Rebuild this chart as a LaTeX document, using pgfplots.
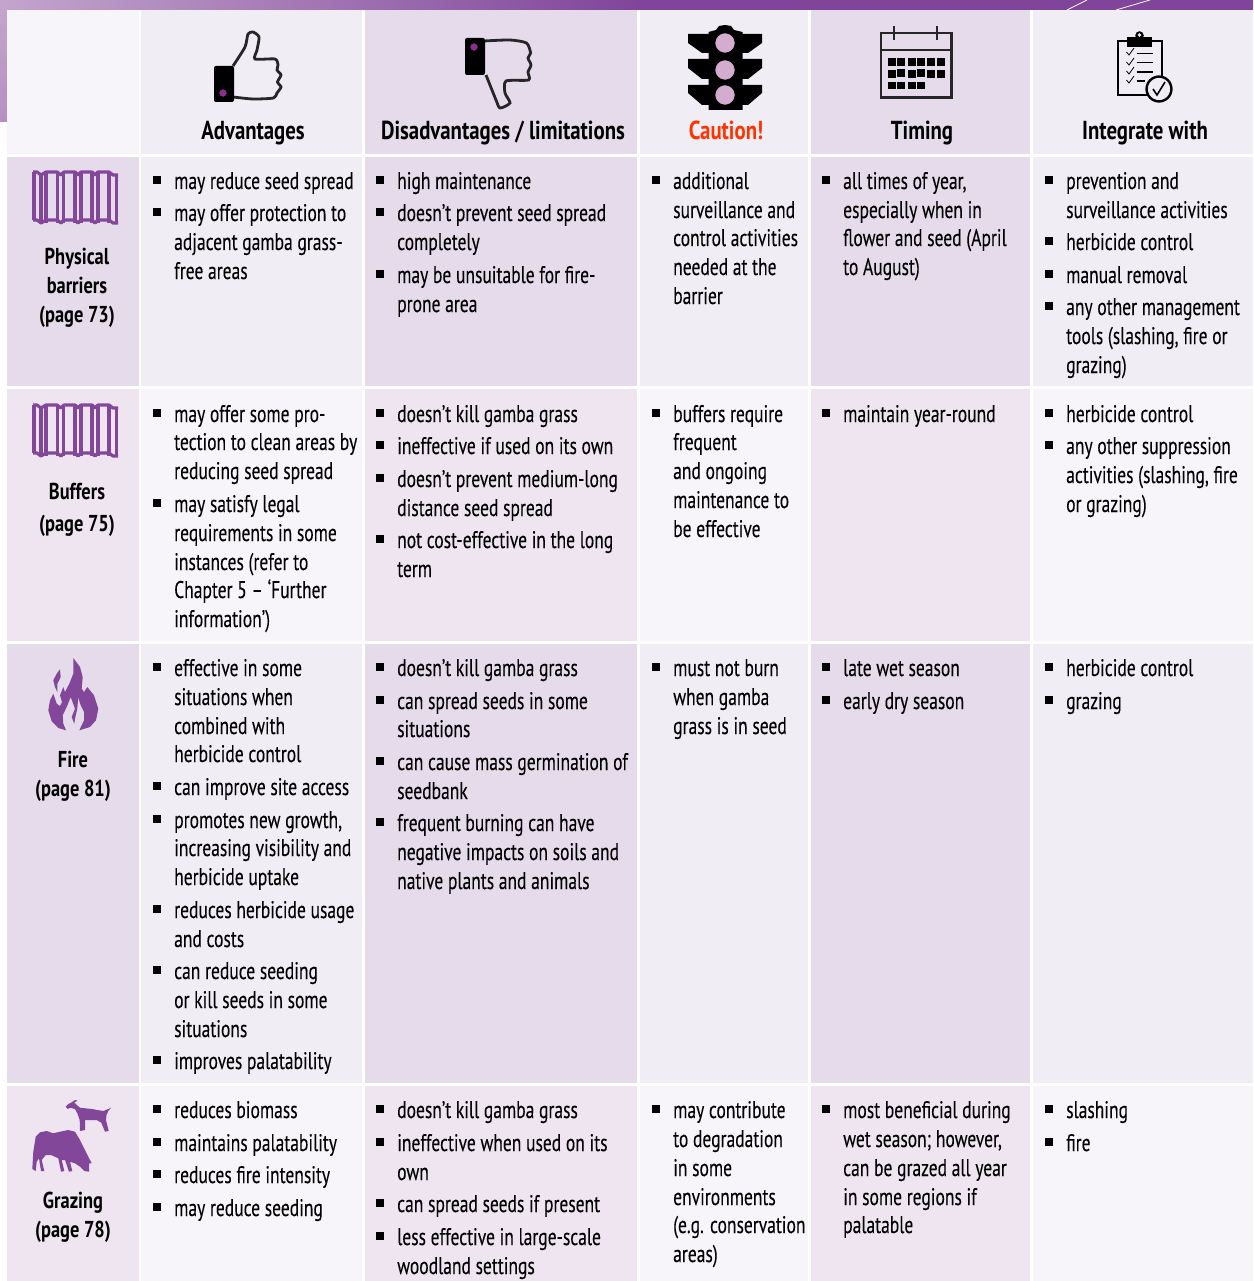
\documentclass[border=0pt]{standalone}
\usepackage{pgfplots}
\pgfplotsset{compat=1.18}
\usepackage{fontspec}
\setmainfont[FakeStretch=0.73,FakeBold=0.12]{PT Sans}
\newfontfamily\hf[FakeStretch=0.8]{PT Sans}
\definecolor{dk}{HTML}{E6DBEB}
\definecolor{md}{HTML}{F1EDF5}
\definecolor{lt}{HTML}{F8F5FA}
\definecolor{dl}{HTML}{EEE5F1}
\definecolor{pur}{HTML}{83479A}
\definecolor{txt}{HTML}{000000}
\definecolor{ga}{HTML}{C3A5CC}
\definecolor{gb}{HTML}{80459A}
\definecolor{gc}{HTML}{B68FC1}
\definecolor{tl}{HTML}{D3ACD0}
\definecolor{rd}{HTML}{FF3300}
\definecolor{dt}{HTML}{8B2F8F}
\newcommand\C[5]{\addplot[draw=none,fill=#5] coordinates {(#1,#3)(#2,#3)(#2,#4)(#1,#4)} --cycle;}
\newcommand\Rw[4]{\C{7}{139}{#1}{#2}{#3}\C{141}{362}{#1}{#2}{#4}\C{365}{637}{#1}{#2}{#3}\C{640}{808}{#1}{#2}{#4}\C{811}{1030}{#1}{#2}{#3}\C{1033}{1253}{#1}{#2}{#4}}
\newcommand\T[3]{\node[anchor=base west,inner sep=0pt,yshift=-8pt,text=txt,font=\fontsize{24}{24}\selectfont] at (axis cs:#1,#2) {#3};}
\newcommand\HH[3]{\node[anchor=base,inner sep=0pt,yshift=-8pt,text=txt,font=\hf\fontsize{23}{23}\selectfont\bfseries] at (axis cs:#1,#2) {#3};}
\newcommand\HC[3]{\node[anchor=base,inner sep=0pt,yshift=-9pt,text=txt,font=\hf\fontsize{26}{26}\selectfont\bfseries] at (axis cs:#1,#2) {#3};}
\newcommand\V[3]{\addplot[draw=pur,line width=3.2pt] coordinates {(#1,#2)(#1,#3)};}
\newcommand\Br[4]{%
\addplot[draw=pur,line width=3.2pt,line join=round] coordinates {(33,#1)(37,#1)(41,#2)(46,#1)(57,#1)(61,#2)(64,#1)(75,#1)(78,#2)(81,#1)(92,#1)(95,#2)(98,#1)(109,#1)(113,#2)(118,#2)};
\addplot[draw=pur,line width=3.2pt,line join=round] coordinates {(33,#3)(37,#3)(41,#4)(46,#3)(57,#3)(61,#4)(64,#3)(75,#3)(78,#4)(81,#3)(92,#3)(95,#4)(98,#3)(109,#3)(113,#4)(118,#4)};
\V{34}{#1}{#3}\V{41}{#2}{#4}\V{46}{#1}{#4}\V{57.5}{#1}{#4}\V{63.5}{#1}{#4}\V{75}{#1}{#4}\V{81}{#1}{#4}\V{92}{#1}{#4}\V{98}{#1}{#4}\V{109}{#1}{#4}\V{116.7}{#2}{#4}}
\begin{document}
\begin{tikzpicture}
\begin{axis}[width=1253pt,height=1281pt,scale only axis,xmin=0,xmax=1253,ymin=0,ymax=1281,y dir=reverse,axis lines=none,ticks=none]
% frame
\addplot[draw=none,left color=ga,right color=gb] coordinates {(0,0)(640,0)(640,10)(0,10)} --cycle;
\addplot[draw=none,fill=gb] coordinates {(640,0)(1253,0)(1253,10)(640,10)} --cycle;
\addplot[draw=none,top color=ga,bottom color=gc] coordinates {(0,10)(7,10)(7,122)(0,122)} --cycle;
\addplot[draw=white,line width=0.8pt] coordinates {(1067,10)(1087,0)};
\addplot[draw=white,line width=0.8pt] coordinates {(1116,10)(1150,0)};
% cells
\C{7}{139}{10}{154}{lt}\C{141}{362}{10}{154}{md}\C{365}{637}{10}{154}{dk}\C{640}{808}{10}{154}{md}\C{811}{1030}{10}{154}{dk}\C{1033}{1253}{10}{154}{md}
\Rw{157}{386}{dk}{md}
\Rw{389}{641}{dl}{lt}
\Rw{644}{1083}{dk}{md}
\Rw{1086}{1281}{dl}{lt}
% thumb up
\addplot[draw=black!85,line width=2.8pt,smooth,tension=0.4] coordinates {(233,66)(245,47)(248,34)(253,32)(259,37)(257,50)(255,59)(275,59)(278,65)(277,70)(281,75)(277.5,82)(281,87)(277,93)(273.5,98)(253,99)(233,97)};
\addplot[draw=none,fill=black,rounded corners=2pt] coordinates {(214,66)(234,66)(234,102)(214,102)} --cycle;
\addplot[only marks,mark=*,mark size=3.4pt,color=dt] coordinates {(223,93)};
% thumb down
\addplot[draw=black!85,line width=2.8pt,smooth,tension=0.4] coordinates {(484,41)(510,40)(526.5,43)(530.6,53)(528,58)(531,65)(528,72)(528.6,80)(506,81)(505,93)(510,103)(500,108)(496,100)(486,75)};
\addplot[draw=none,fill=black,rounded corners=2pt] coordinates {(465,38)(485,38)(485,75)(465,75)} --cycle;
\addplot[only marks,mark=*,mark size=3.4pt,color=dt] coordinates {(474,47)};
% traffic light
\addplot[draw=none,fill=black] coordinates {(708.5,32)(716,30)(719,26)(725,25)(731,26)(734,30)(742.5,32)(742.5,110)(708.5,110)} --cycle;
\addplot[draw=none,fill=black] coordinates {(688,34)(762,34)(762,43)(748,53)(702,53)(688,43)} --cycle;
\addplot[draw=none,fill=black] coordinates {(688,59)(762,59)(762,68)(748,79)(702,79)(688,68)} --cycle;
\addplot[draw=none,fill=black] coordinates {(688,85)(762,85)(762,93)(748,105)(702,105)(688,93)} --cycle;
\addplot[only marks,mark=*,mark size=9.4pt,color=tl,mark options={draw=none}] coordinates {(725,43)(725,70)(725,95)};
% calendar
\addplot[draw=black!85,line width=2.4pt] coordinates {(881,33)(951.5,33)(951.5,97.5)(881,97.5)} --cycle;
\addplot[draw=black!85,line width=2.4pt] coordinates {(881,50)(951.5,50)};
\addplot[draw=black!85,line width=1.6pt] coordinates {(894,26)(894,40)};
\addplot[draw=black!85,line width=1.6pt] coordinates {(937,26)(937,40)};
\addplot[only marks,mark=square*,mark size=3.4pt,color=black] coordinates {(891.4,62)(901,62)(911.3,62)(920.7,62)(930.5,62)(940.6,62)(891.4,74)(901,73)(911.3,74)(920.7,73)(930.5,74)(940.6,74)(891.4,85.3)(901,85.3)(911.3,85.3)(920.7,85.3)};
% clipboard
\addplot[draw=black,line width=2pt] coordinates {(1118,41)(1161.5,41)(1161.5,95)(1118,95)} --cycle;
\addplot[draw=none,fill=black] coordinates {(1127,37)(1152,37)(1152,47)(1127,47)} --cycle;
\addplot[only marks,mark=*,mark size=4pt,color=black] coordinates {(1139.5,35.5)};
\addplot[only marks,mark=*,mark size=1.6pt,color=md,mark options={draw=none}] coordinates {(1139.5,35)};
\addplot[draw=black,line width=1.4pt] coordinates {(1136.5,53.3)(1153,53.3)};
\addplot[draw=black,line width=1.4pt] coordinates {(1136.5,62.7)(1153,62.7)};
\addplot[draw=black,line width=1.4pt] coordinates {(1136.5,72)(1153,72)};
\addplot[draw=black,line width=1.4pt] coordinates {(1136.5,81)(1145,81)};
\addplot[draw=black,line width=0.8pt] coordinates {(1126.5,52)(1129,55)(1134,48)};
\addplot[draw=black,line width=0.8pt] coordinates {(1126.5,62)(1129,65)(1134,58)};
\addplot[draw=black,line width=0.8pt] coordinates {(1126.5,71)(1129,74)(1134,67)};
\addplot[draw=black,line width=0.8pt] coordinates {(1126.5,80)(1129,83)(1134,76)};
\addplot[draw=black,line width=2.4pt,fill=md,line join=round] coordinates {(1171.5,89)(1171,92.2)(1169.8,95.25)(1167.8,97.8)(1165.25,99.8)(1162.2,101)(1159,101.5)(1155.8,101)(1152.75,99.8)(1150.2,97.8)(1148.2,95.25)(1147,92.2)(1146.5,89)(1147,85.8)(1148.2,82.75)(1150.2,80.2)(1152.75,78.2)(1155.8,77)(1159,76.5)(1162.2,77)(1165.25,78.2)(1167.8,80.2)(1169.8,82.75)(1171,85.8)} --cycle;
\addplot[draw=black,line width=1.6pt] coordinates {(1153,89)(1157,95)(1165,82)};
% barriers
\Br{172}{175}{220}{223}
\Br{405}{408}{453}{456}
% fire
\addplot[draw=none,fill=pur] coordinates {(73.3,658)(80,667)(82.7,677)(81.7,688.7)(84,692)(87.3,687)(94,695.3)(98.3,708.7)(96,720.3)(90,727)(79.3,730.3)(84,720.3)(84,712)(80,703.7)(78.3,697)(77.3,708.7)(75,718.7)(74.3,723.7)(71.7,717)(75,708.7)(70.7,697)(66.7,707)(62.7,715.3)(63.3,723.7)(66,730.3)(58.3,728)(51.7,721.3)(48.3,710.3)(50,700.3)(53.3,693.7)(56.7,703.7)(60,706)(62,702)(60,695.3)(63.3,687)(65,692)(69.3,683.7)(73.3,673.7)} --cycle;
\addplot[draw=none,fill=pur] coordinates {(60,669.3)(56.7,673.7)(53.3,680.3)(55,687)(57.3,692)(57.5,683.7)(60.7,677)} --cycle;
% cow and goat
\addplot[draw=none,fill=pur] coordinates {(35.7,1136.7)(40,1132.3)(46.7,1131)(53.3,1133.3)(60,1131.7)(68.3,1130)(75,1131.7)(80,1140)(85,1150)(90,1160)(91.7,1163.3)(89,1163.3)(89,1171.7)(84.3,1171)(80,1166.7)(75,1163.3)(70,1161.7)(72.3,1171)(69,1171.7)(65,1160)(61.7,1160)(64.3,1171)(61,1171.7)(58.3,1158.3)(51,1155)(45.7,1155)(41.7,1160)(44.3,1171)(41,1171)(39,1158.3)(36.7,1161.7)(35.7,1171)(32.3,1169)(33.3,1151.7)} --cycle;
\addplot[draw=none,fill=pur] coordinates {(65.7,1106.7)(68.3,1104)(71.7,1102.3)(75,1100)(77.7,1100.7)(74.3,1102.3)(75.7,1104)(80,1107.7)(91.7,1109)(103.3,1111)(108.3,1109)(111,1107.7)(108.3,1111)(106.5,1115)(106,1120)(108.7,1131)(105,1131.7)(101.3,1122.7)(96.7,1120)(85,1120)(85,1130)(80,1131)(79.7,1120)(77.3,1113.3)(75,1109)(70,1107.7)(67.7,1109)} --cycle;
% bullets
\addplot[only marks,mark=square*,mark size=3.6pt,color=black] coordinates {
(157,180)(157,212)(157,413)(157,503)(157,667)(157,786)(157,819)(157,909)(157,970)(157,1060)(157,1109)(157,1142)(157,1174)(157,1207)
(380,180)(380,212)(380,274)(380,413)(380,445)(380,478)(380,539)(380,667)(380,700)(380,761)(380,822)(380,1109)(380,1142)(380,1203)(380,1236)
(656,180)(656,413)(656,667)(656,1109)
(826,180)(826,413)(826,667)(826,700)(826,1109)
(1049,180)(1049,241)(1049,274)(1049,306)(1049,413)(1049,445)(1049,667)(1049,700)(1049,1109)(1049,1142)};
% headers
\HC{253}{131}{Advantages}
\HC{503}{131}{Disadvantages / limitations}
\node[anchor=base,inner sep=0pt,yshift=-9pt,text=rd,font=\hf\fontsize{26}{26}\selectfont\bfseries] at (axis cs:726,131) {Caution!};
\HC{922}{131}{Timing}
\HC{1145}{131}{Integrate with}
\HH{77}{257}{Physical}
\HH{77}{285}{barriers}
\HH{77}{314}{(page 73)}
\HH{77}{491}{Buffers}
\HH{77}{523}{(page 75)}
\HH{73}{759}{Fire}
\HH{73}{788}{(page 81)}
\HH{73}{1200}{Grazing}
\HH{73}{1229}{(page 78)}
% row 1
\T{174}{181}{may reduce seed spread}
\T{174}{213}{may offer protection to}
\T{174}{242}{adjacent gamba grass-}
\T{174}{271}{free areas}
\T{397}{181}{high maintenance}
\T{397}{213}{doesn’t prevent seed spread}
\T{397}{242}{completely}
\T{397}{275}{may be unsuitable for fire-}
\T{397}{304}{prone area}
\T{673}{181}{additional}
\T{673}{210}{surveillance and}
\T{673}{238}{control activities}
\T{673}{267}{needed at the}
\T{673}{296}{barrier}
\T{843}{181}{all times of year,}
\T{843}{210}{especially when in}
\T{843}{238}{flower and seed (April}
\T{843}{267}{to August)}
\T{1066}{181}{prevention and}
\T{1066}{210}{surveillance activities}
\T{1066}{242}{herbicide control}
\T{1066}{275}{manual removal}
\T{1066}{307}{any other management}
\T{1066}{336}{tools (slashing, fire or}
\T{1066}{365}{grazing)}
% row 2
\T{174}{414}{may offer some pro-}
\T{174}{442}{tection to clean areas by}
\T{174}{471}{reducing seed spread}
\T{174}{504}{may satisfy legal}
\T{174}{533}{requirements in some}
\T{174}{562}{instances (refer to}
\T{174}{590}{Chapter 5 – ‘Further}
\T{174}{619}{information’)}
\T{397}{414}{doesn’t kill gamba grass}
\T{397}{446}{ineffective if used on its own}
\T{397}{479}{doesn’t prevent medium-long}
\T{397}{508}{distance seed spread}
\T{397}{540}{not cost-effective in the long}
\T{397}{569}{term}
\T{673}{414}{buffers require}
\T{673}{442}{frequent}
\T{673}{471}{and ongoing}
\T{673}{500}{maintenance to}
\T{673}{529}{be effective}
\T{843}{414}{maintain year-round}
\T{1066}{414}{herbicide control}
\T{1066}{446}{any other suppression}
\T{1066}{475}{activities (slashing, fire}
\T{1066}{504}{or grazing)}
% row 3
\T{174}{668}{effective in some}
\T{174}{697}{situations when}
\T{174}{726}{combined with}
\T{174}{754}{herbicide control}
\T{174}{787}{can improve site access}
\T{174}{820}{promotes new growth,}
\T{174}{848}{increasing visibility and}
\T{174}{877}{herbicide uptake}
\T{174}{910}{reduces herbicide usage}
\T{174}{939}{and costs}
\T{174}{971}{can reduce seeding}
\T{174}{1000}{or kill seeds in some}
\T{174}{1029}{situations}
\T{174}{1061}{improves palatability}
\T{397}{668}{doesn’t kill gamba grass}
\T{397}{701}{can spread seeds in some}
\T{397}{729}{situations}
\T{397}{762}{can cause mass germination of}
\T{397}{791}{seedbank}
\T{397}{823}{frequent burning can have}
\T{397}{852}{negative impacts on soils and}
\T{397}{881}{native plants and animals}
\T{673}{668}{must not burn}
\T{673}{697}{when gamba}
\T{673}{726}{grass is in seed}
\T{843}{668}{late wet season}
\T{843}{701}{early dry season}
\T{1066}{668}{herbicide control}
\T{1066}{701}{grazing}
% row 4
\T{174}{1110}{reduces biomass}
\T{174}{1143}{maintains palatability}
\T{174}{1175}{reduces fire intensity}
\T{174}{1208}{may reduce seeding}
\T{397}{1110}{doesn’t kill gamba grass}
\T{397}{1143}{ineffective when used on its}
\T{397}{1172}{own}
\T{397}{1204}{can spread seeds if present}
\T{397}{1237}{less effective in large-scale}
\T{397}{1266}{woodland settings}
\T{673}{1110}{may contribute}
\T{673}{1139}{to degradation}
\T{673}{1168}{in some}
\T{673}{1197}{environments}
\T{673}{1225}{(e.g. conservation}
\T{673}{1254}{areas)}
\T{843}{1110}{most beneficial during}
\T{843}{1139}{wet season; however,}
\T{843}{1168}{can be grazed all year}
\T{843}{1197}{in some regions if}
\T{843}{1225}{palatable}
\T{1066}{1110}{slashing}
\T{1066}{1143}{fire}
\end{axis}
\end{tikzpicture}
\end{document}
